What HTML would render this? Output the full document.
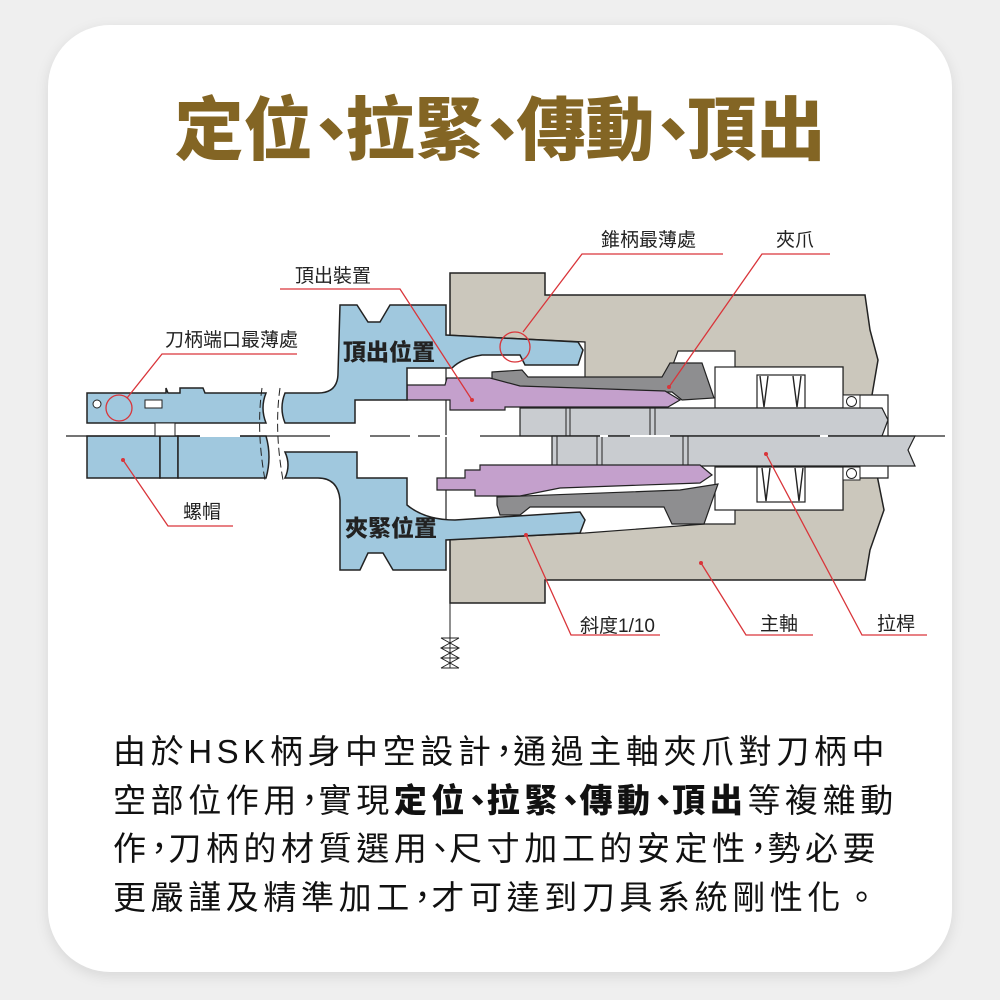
<!DOCTYPE html>
<html><head><meta charset="utf-8">
<style>
html,body{margin:0;padding:0;}
body{width:1000px;height:1000px;background:#efefef;position:relative;overflow:hidden;font-family:"Liberation Sans","Noto Sans CJK TC",sans-serif;}
.card{position:absolute;left:48px;top:25px;width:904px;height:947px;background:#fff;border-radius:62px;box-shadow:0 4px 14px rgba(0,0,0,0.10);}
.title{position:absolute;left:0;width:1000px;top:80px;text-align:center;font-size:69px;font-weight:900;color:#836524;font-family:"Noto Sans CJK TC","Noto Sans CJK SC",sans-serif;line-height:88px;white-space:nowrap;}
.title span{margin:0 -20px 0 -16px;}
.body{position:absolute;left:113px;top:728px;font-size:33px;line-height:48.5px;color:#111;letter-spacing:4.6px;font-family:"Liberation Sans","Noto Sans CJK TC",sans-serif;white-space:nowrap;}
.body b{font-weight:900;}
.body i{font-style:normal;margin:0 -12px 0 -8px;}
svg{position:absolute;left:0;top:0;}
</style></head><body>
<div class="card"></div>
<div class="title">定位<span>、</span>拉緊<span>、</span>傳動<span>、</span>頂出</div>
<svg width="1000" height="1000" viewBox="0 0 1000 1000" font-family="Liberation Sans, Noto Sans CJK TC, sans-serif">
<path d="M450,273 L545,273 L545,295 L865,295 L870,330 L878,360 L872,395 L886,430 L876,470 L884,510 L870,550 L865,580 L545,580 L545,603 L450,603 Z" fill="#cbc7bc" stroke="#222" stroke-width="1.5"/>
<path d="M446,335 L585,342 L585,378 L668,378 L678,351 L735,351 L735,367 L843,367 L843,395 L888,395 L888,478 L843,478 L843,510 L735,510 L735,524 L705,524 L585,533 L446,540 Z" fill="#fff" stroke="#222" stroke-width="1.2"/>
<rect x="715" y="367" width="128" height="41" fill="#fff" stroke="#222" stroke-width="1.2"/>
<rect x="715" y="467" width="128" height="43" fill="#fff" stroke="#222" stroke-width="1.2"/>
<rect x="757" y="375" width="48" height="33" fill="#fff" stroke="#222" stroke-width="1.2"/>
<rect x="757" y="467" width="48" height="35" fill="#fff" stroke="#222" stroke-width="1.2"/>
<path d="M760,376 L764,407 L768,376 M793,376 L797,407 L801,376 M762,468 L766,501 L770,468 M795,468 L799,501 L803,468" stroke="#222" fill="none" stroke-width="1.4"/>
<rect x="843" y="395" width="17" height="13" fill="#fff" stroke="#222"/>
<rect x="843" y="467" width="17" height="13" fill="#fff" stroke="#222"/>
<circle cx="851.5" cy="401.5" r="5" fill="none" stroke="#222"/><circle cx="851.5" cy="473.5" r="5" fill="none" stroke="#222"/>
<path d="M520,408 L882,408 L888,420 L882,436 L520,436 Z" fill="#c9ccd0" stroke="#222" stroke-width="1.2"/>
<path d="M552,436 L915,436 L908,450 L915,466 L552,466 Z" fill="#c9ccd0" stroke="#222" stroke-width="1.2"/>
<path d="M566,408V436 M570,408V436 M650,408V436 M655,408V436 M557,436V466 M597,436V466 M602,436V466 M683,436V466 M688,436V466" stroke="#222" stroke-width="1"/>
<path d="M492,372 L522,370 L528,377 L662,377 L670,363 L702,363 L714,398 L682,400 L672,392 L505,392 L492,385 Z" fill="#8e8e90" stroke="#222" stroke-width="1.2"/>
<path d="M497,497 L680,490 L718,484 L704,524 L672,524 L664,507 L530,507 L520,515 L500,515 L497,505 Z" fill="#8e8e90" stroke="#222" stroke-width="1.2"/>
<path d="M407,385 L445,385 L447,378 L490,378 L520,386 L665,391 L680,400 L668,407 L505,407 L505,410 L450,410 L450,400 L407,400 Z" fill="#c4a0cc" stroke="#222" stroke-width="1.2"/>
<path d="M437,478 L465,478 L465,470 L480,470 L480,465 L700,465 L712,475 L700,483 L560,488 L520,496 L475,496 L475,490 L437,490 Z" fill="#c4a0cc" stroke="#222" stroke-width="1.2"/>
<g fill="#a0c8de" stroke="#222" stroke-width="1.5">
<path d="M87,393 L166,393 L166,388 L168,393 L180,393 L180,388 L203,388 L205,393 L266,393 Q260,408 266,423 L87,423 Z"/>
<path d="M87,436 L160,436 L160,478 L87,478 Z"/>
<path d="M160,436 L178,436 L178,478 L160,478 Z"/>
<path d="M178,436 L266,436 Q272,457 266,478 L178,478 Z"/>
<path d="M285,393 L318,393 Q338,393 338,373 L340,305 L357,305 L368,322 L380,322 L390,305 L446,305 L446,335 L578,342 L583,350 L578,365 L525,365 L520,355 L482,355 Q462,358 452,368 L407,368 L407,400 L355,400 L355,423 L285,423 Q279,408 285,393 Z"/>
<path d="M285,452 L357,452 L357,478 L407,478 L407,505 Q425,520 455,520 L580,512 L585,520 L580,533 L446,540 L446,570 L393,570 L383,553 L368,553 L360,570 L340,570 L340,500 Q338,478 318,478 L285,478 Q291,465 285,452 Z"/>
</g>
<rect x="145" y="400" width="17" height="8" fill="#fff" stroke="#222"/>
<circle cx="97" cy="404" r="4" fill="#fff" stroke="#222"/>
<rect x="155" y="423" width="20" height="13" fill="#fff" stroke="#222"/>
<path d="M262,388 Q256,430 265,480 M280,388 Q274,430 283,480" stroke="#222" fill="none" stroke-width="1" stroke-dasharray="8 4"/>
<line x1="66" y1="436" x2="945" y2="436" stroke="#222" stroke-width="1.3"/>
<path d="M200,436h40 M330,436h40 M410,436h8 M440,436h40 M600,436h8 M630,436h40 M820,436h8" stroke="#fff" stroke-width="2"/>
<line x1="450" y1="603" x2="450" y2="668" stroke="#222"/>
<path d="M441,638 L459,648 L441,658 L459,668 M459,638 L441,648 L459,658 L441,668 M441,638H459 M441,648H459 M441,658H459 M441,668H459" stroke="#222" fill="none" stroke-width="1"/>
<g font-size="23" font-weight="900" fill="#222" font-family="Noto Sans CJK TC, sans-serif">
<text x="343" y="360">頂出位置</text>
<text x="345" y="536">夾緊位置</text>
</g>
<g stroke="#d9353a" stroke-width="1.3" fill="none">
<path d="M280,289 L400,289 L472,400"/>
<path d="M297,354 L162,354 L127,398"/>
<circle cx="119" cy="408" r="13"/>
<path d="M123,460 L168,526 L233,526"/>
<path d="M723,254 L582,254 L523,332"/>
<circle cx="515" cy="347" r="15"/>
<path d="M830,254 L762,254 L669,387"/>
<path d="M526,535 L571,635 L660,635"/>
<path d="M701,563 L746,635 L813,635"/>
<path d="M766,454 L862,635 L927,635"/>
</g>
<g fill="#d9353a"><circle cx="472" cy="400" r="2"/><circle cx="123" cy="460" r="2"/><circle cx="669" cy="387" r="2"/><circle cx="526" cy="535" r="2"/><circle cx="701" cy="563" r="2"/><circle cx="766" cy="454" r="2"/></g>
<g font-size="19" fill="#222">
<text x="295" y="282">頂出裝置</text>
<text x="165" y="346">刀柄端口最薄處</text>
<text x="183" y="518">螺帽</text>
<text x="601" y="246">錐柄最薄處</text>
<text x="776" y="246">夾爪</text>
<text x="580" y="632">斜度1/10</text>
<text x="760" y="630">主軸</text>
<text x="877" y="630">拉桿</text>
</g>
</svg>
<div class="body">由於HSK柄身中空設計<i>，</i>通過主軸夾爪對刀柄中<br>空部位作用<i>，</i>實現<b>定位<i>、</i>拉緊<i>、</i>傳動<i>、</i>頂出</b>等複雜動<br>作<i>，</i>刀柄的材質選用<i>、</i>尺寸加工的安定性<i>，</i>勢必要<br>更嚴謹及精準加工<i>，</i>才可達到刀具系統剛性化。</div>
</body></html>
